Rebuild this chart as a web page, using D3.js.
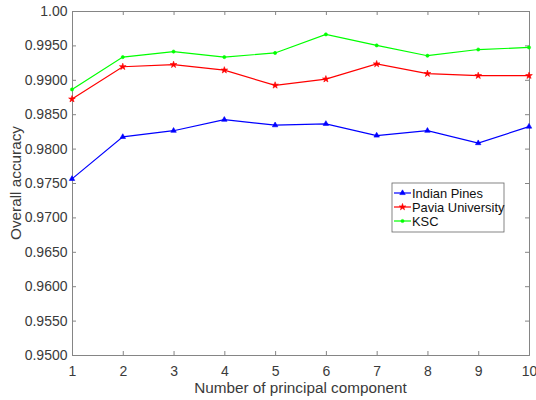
<!DOCTYPE html>
<html>
<head>
<meta charset="utf-8">
<script src="https://cdn.jsdelivr.net/npm/d3@7"></script>
<style>
  html, body { margin: 0; padding: 0; background: #fff; }
  svg { display: block; font-family: "Liberation Sans", Arial, sans-serif; }
</style>
</head>
<body>
<svg id="chart" width="536" height="400"></svg>
<script>
// Number of principal components (x) and overall accuracy per dataset
const components = [1, 2, 3, 4, 5, 6, 7, 8, 9, 10];
const indianPines = [0.9756, 0.9817, 0.9826, 0.9842, 0.9834, 0.9836, 0.9819, 0.9826, 0.9808, 0.9832];
const paviaUniversity = [0.9872, 0.9919, 0.9922, 0.9914, 0.9892, 0.9901, 0.9923, 0.9909, 0.9906, 0.9906];
const ksc = [0.9886, 0.9933, 0.9941, 0.9933, 0.9939, 0.9966, 0.9950, 0.9935, 0.9944, 0.9947];
const yTicks = [0.95, 0.955, 0.96, 0.965, 0.97, 0.975, 0.98, 0.985, 0.99, 0.995, 1.0];
const yTickLabels = ["0.9500", "0.9550", "0.9600", "0.9650", "0.9700", "0.9750", "0.9800", "0.9850", "0.9900", "0.9950", "1.00"];
const seriesNames = ["Indian Pines", "Pavia University", "KSC"];

const series = [
  { name: seriesNames[0], values: indianPines, color: "#0000ff", marker: "triangle" },
  { name: seriesNames[1], values: paviaUniversity, color: "#ff0000", marker: "star" },
  { name: seriesNames[2], values: ksc, color: "#00ff00", marker: "dot" }
];

const svg = d3.select("#chart");
const W = 536, H = 400;
const margin = { left: 72, right: 7, top: 11, bottom: 45 };
const x0 = margin.left, x1 = W - margin.right, y0 = H - margin.bottom, y1 = margin.top;

const x = d3.scaleLinear().domain([1, 10]).range([x0, x1]);
const y = d3.scaleLinear().domain([0.95, 1.0]).range([y0, y1]);

const axisColor = "#858585";
const textColor = "#3a3a3a";
const tickLen = 4;

// Box with inward ticks on all four sides
const g = svg.append("g");

const bottomAxis = d3.axisBottom(x).tickValues(components).tickSize(-tickLen).tickPadding(11).tickFormat(d3.format("d"));
const topAxis = d3.axisTop(x).tickValues(components).tickSize(-tickLen).tickFormat("");
const leftAxis = d3.axisLeft(y).tickValues(yTicks).tickSize(-tickLen).tickPadding(4.5)
  .tickFormat((d, i) => yTickLabels[i]);
const rightAxis = d3.axisRight(y).tickValues(yTicks).tickSize(-tickLen).tickFormat("");

function styleAxis(sel) {
  sel.select(".domain").attr("stroke", axisColor).attr("stroke-width", 1);
  sel.selectAll(".tick line").attr("stroke", axisColor).attr("stroke-width", 1);
  sel.selectAll(".tick text").attr("fill", textColor).style("font-size", "14px")
    .style("font-family", "'Liberation Sans', Arial, sans-serif");
}

g.append("g").attr("transform", `translate(0,${y0})`).call(bottomAxis).call(styleAxis);
g.append("g").attr("transform", `translate(0,${y1})`).call(topAxis).call(styleAxis);
g.append("g").attr("transform", `translate(${x0},0)`).call(leftAxis).call(styleAxis);
g.append("g").attr("transform", `translate(${x1},0)`).call(rightAxis).call(styleAxis);

// Axis titles
svg.append("text")
  .attr("x", (x0 + x1) / 2).attr("y", 393)
  .attr("text-anchor", "middle").attr("fill", textColor)
  .style("font-size", "15.3px")
  .text("Number of principal component");

svg.append("text")
  .attr("transform", `translate(21,${(y0 + y1) / 2}) rotate(-90)`)
  .attr("text-anchor", "middle").attr("fill", textColor)
  .style("font-size", "15.3px")
  .text("Overall accuracy");

// Lines and markers
const line = d3.line().x((d, i) => x(components[i])).y(d => y(d));
const markerPath = {
  triangle: d3.symbol().type(d3.symbolTriangle).size(13)(),
  star: d3.symbol().type(d3.symbolStar).size(14)(),
  dot: d3.symbol().type(d3.symbolCircle).size(8)()
};

series.forEach(s => {
  svg.append("path")
    .datum(s.values)
    .attr("d", line)
    .attr("fill", "none")
    .attr("stroke", s.color)
    .attr("stroke-width", 1.2);
  svg.append("g").selectAll("path")
    .data(s.values)
    .join("path")
    .attr("transform", (d, i) => `translate(${x(components[i])},${y(d)})`)
    .attr("d", markerPath[s.marker])
    .attr("fill", s.color)
    .attr("stroke", s.color)
    .attr("stroke-width", 0.6);
});

// Legend
const lg = svg.append("g").attr("transform", "translate(392,183)");
lg.append("rect")
  .attr("width", 112).attr("height", 49)
  .attr("fill", "#fff").attr("stroke", "#666").attr("stroke-width", 0.8);
series.forEach((s, i) => {
  const row = lg.append("g").attr("transform", `translate(0,${10 + i * 14})`);
  row.append("line").attr("x1", 2).attr("x2", 19).attr("y1", 0).attr("y2", 0)
    .attr("stroke", s.color).attr("stroke-width", 1.2);
  row.append("path").attr("transform", "translate(10.5,0)").attr("d", markerPath[s.marker])
    .attr("fill", s.color).attr("stroke", s.color).attr("stroke-width", 0.6);
  row.append("text").attr("x", 20).attr("y", 4.6)
    .attr("fill", "#111").style("font-size", "12.9px")
    .text(s.name);
});
</script>
</body>
</html>
